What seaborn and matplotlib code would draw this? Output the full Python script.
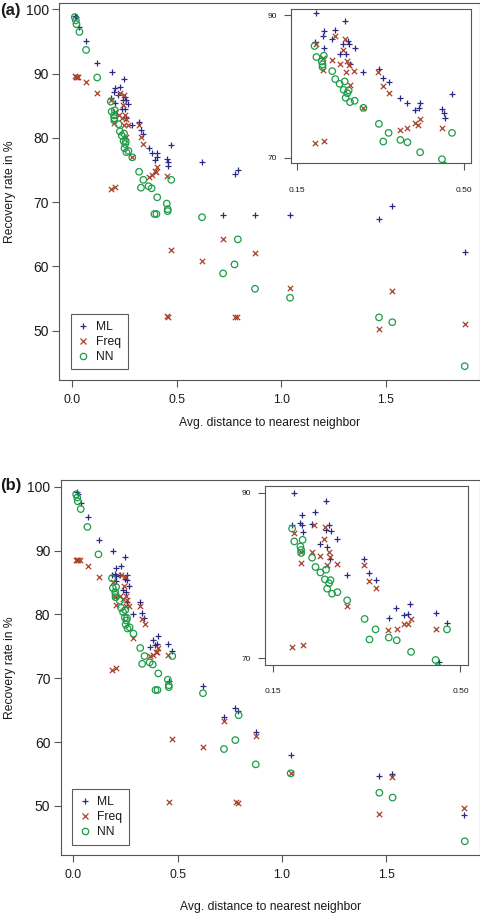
import matplotlib
matplotlib.use("Agg")
import matplotlib.pyplot as plt
from matplotlib.lines import Line2D
import seaborn as sns

sns.set_theme(style="white")
plt.rcParams['font.family'] = ['Liberation Sans', 'DejaVu Sans']

# ---------------- data ----------------
nn_x = [0.014, 0.019, 0.022, 0.036, 0.068, 0.121,
        0.186, 0.190, 0.2056, 0.2014, 0.2028, 0.2028, 0.2233, 0.2296, 0.2493, 0.2387,
        0.2472, 0.2577, 0.2549, 0.2514, 0.2606, 0.2704, 0.2887, 0.3212, 0.3416, 0.3303,
        0.3663, 0.3811, 0.4078, 0.4536, 0.4748,
        0.3945, 0.404, 0.458, 0.458,
        0.622, 0.7226, 0.777, 0.793, 0.875, 1.0425, 1.4675, 1.531, 1.877]
nn_y = [98.8, 98.3, 97.7, 96.5, 93.7, 89.4,
        85.65, 84.10, 84.29, 83.49, 83.07, 82.70, 82.13, 81.01, 80.68, 80.35,
        79.51, 79.42, 79.04, 78.39, 77.78, 77.97, 76.98, 74.73, 73.47, 72.25,
        72.48, 72.15, 70.75, 69.77, 73.47,
        68.15, 68.15, 68.9, 68.6,
        67.65, 58.9, 60.3, 64.2, 56.5, 55.1, 52.05, 51.3, 44.45]

ml_a_x = [0.017, 0.020, 0.036, 0.068, 0.121,
          0.190, 0.249, 0.205, 0.229, 0.203, 0.2225, 0.186, 0.2556, 0.259, 0.2458,
          0.2056, 0.2704, 0.2387, 0.2528, 0.2606, 0.2887, 0.3212, 0.3303, 0.3416, 0.3663,
          0.3811, 0.4078, 0.4064, 0.396, 0.4536, 0.4586, 0.4597, 0.4748,
          0.622, 0.7225, 0.778, 0.794, 0.875, 1.042, 1.4675, 1.531, 1.877]
ml_a_y = [99.0, 98.9, 97.3, 95.1, 91.7,
          90.29, 89.16, 87.76, 87.94, 87.1, 86.63, 86.26, 86.35, 85.88, 85.88,
          85.41, 85.32, 84.57, 84.57, 83.17, 81.99, 82.41, 81.20, 80.59, 78.39,
          77.68, 77.59, 76.98, 76.61, 76.75, 76.28, 75.58, 78.85,
          76.3, 68.0, 74.35, 75.0, 68.0, 68.0, 67.4, 69.4, 62.2]

freq_a_x = [0.014, 0.019, 0.024, 0.030, 0.068, 0.121,
            0.2282, 0.2493, 0.1887, 0.2458, 0.2042, 0.2233, 0.2549, 0.2401, 0.2584,
            0.2028, 0.2514, 0.2697, 0.3198, 0.2606, 0.3303, 0.3416, 0.2887, 0.396,
            0.4078, 0.403, 0.3811, 0.3663, 0.4543, 0.186, 0.2056,
            0.456, 0.459, 0.474, 0.622, 0.7226, 0.778, 0.791, 0.875, 1.0425, 1.4675,
            1.531, 1.877]
freq_a_y = [89.6, 89.5, 89.5, 89.45, 88.7, 86.95,
            87.01, 86.68, 85.88, 85.13, 84.01, 83.63, 83.54, 83.17, 82.93,
            82.32, 82.04, 82.08, 82.04, 80.12, 80.08, 79.04, 76.98, 74.92,
            75.39, 74.64, 74.17, 73.94, 74.12, 72.01, 72.29,
            52.3, 52.1, 62.5, 60.9, 64.25, 52.1, 52.15, 62.1, 56.7, 50.2,
            56.1, 51.05]

ml_b_x = [0.019, 0.022, 0.037, 0.069, 0.122,
          0.1899, 0.2488, 0.2048, 0.2289, 0.2011, 0.2042, 0.1856, 0.2233, 0.2555,
          0.2054, 0.2488, 0.2592, 0.2376, 0.2692, 0.2518, 0.2573, 0.2878, 0.3199,
          0.3292, 0.3416, 0.3806, 0.3663, 0.4059, 0.3942, 0.4022, 0.4541, 0.4746, 0.4592,
          0.622, 0.7225, 0.776, 0.79, 0.874, 1.042, 1.4655, 1.529, 1.874]
ml_b_y = [99.1, 98.9, 97.4, 95.25, 91.66,
          89.96, 88.95, 87.26, 87.62, 86.34, 86.05, 86.13, 86.21, 86.09,
          85.2, 85.53, 85.41, 83.84, 84.40, 83.44, 81.99, 80.09, 81.99,
          80.29, 79.40, 76.02, 74.85, 76.59, 75.22, 75.38, 75.42, 74.21, 69.54,
          68.8, 63.85, 65.4, 64.9, 61.5, 57.9, 54.6, 55.0, 48.6]

freq_b_x = [0.013, 0.019, 0.025, 0.032, 0.069, 0.122,
            0.1893, 0.2277, 0.2481, 0.2450, 0.2233, 0.2376, 0.2029, 0.2023, 0.2549,
            0.2574, 0.2518, 0.2698, 0.3206, 0.3299, 0.3423, 0.2883, 0.3657, 0.3812,
            0.3949, 0.4017, 0.4072, 0.4537, 0.1856, 0.2060,
            0.459, 0.473, 0.622, 0.7225, 0.778, 0.79, 0.874, 1.042, 1.4655, 1.529, 1.874]
freq_b_y = [88.55, 88.5, 88.5, 88.45, 87.6, 85.9,
            85.09, 86.09, 85.81, 84.40, 82.83, 82.39, 81.54, 82.79, 82.87,
            82.27, 81.26, 81.33, 81.26, 79.33, 78.44, 76.30, 73.40, 73.56,
            74.09, 74.09, 74.73, 73.56, 71.35, 71.63,
            50.6, 60.5, 59.15, 63.3, 50.55, 50.5, 61.0, 55.15, 48.8, 54.5, 49.65]

main_xticks = [0.0, 0.5, 1.0, 1.5]
main_xticklabels = ["0.0", "0.5", "1.0", "1.5"]
main_yticks = [50, 60, 70, 80, 90, 100]
inset_xticks = [0.15, 0.50]
inset_xticklabels = ["0.15", "0.50"]
inset_yticks = [70, 90]
series_names = ["ML", "Freq", "NN"]

# ---------------- style ----------------
C_ML = "#2A2A86"
C_FREQ = "#A8432B"
C_NN = "#1C9C48"
FRAME = "#555555"
TXT = "#1a1a1a"
W, H = 481, 914
FS = 8.7
FS_Y = 10.0

fig = plt.figure(figsize=(W / 100, H / 100), dpi=100)


def rect(l, t, r, b):
    return [l / W, 1 - b / H, (r - l) / W, (b - t) / H]


def draw_points(ax, mx, my, fx, fy, nx, ny):
    sns.scatterplot(x=mx, y=my, marker='+', s=24, color=C_ML, linewidth=0.9,
                    ax=ax, legend=False, zorder=3)
    sns.scatterplot(x=fx, y=fy, marker='x', s=15, color=C_FREQ, linewidth=0.9,
                    ax=ax, legend=False, zorder=3)
    sns.scatterplot(x=nx, y=ny, marker='o', s=22, color=C_NN, facecolors='none',
                    edgecolor=C_NN, linewidth=0.9, ax=ax, legend=False, zorder=3)


def style_frame(ax):
    for sp in ax.spines.values():
        sp.set_visible(True)
        sp.set_color(FRAME)
        sp.set_linewidth(0.8)
    ax.grid(False)
    ax.set_xlabel("")
    ax.set_ylabel("")


def panel(main_rect, inset_rect, mx, my, fx, fy, letter, label_y, xlabel_y):
    ax = fig.add_axes(rect(*main_rect))
    draw_points(ax, mx, my, fx, fy, nn_x, nn_y)
    style_frame(ax)
    ax.set_xlim(-0.06, 1.95)
    ax.set_ylim(42.3, 101.05)
    ax.set_xticks(main_xticks)
    ax.set_xticklabels(main_xticklabels)
    ax.set_yticks(main_yticks)
    ax.tick_params(axis='both', which='both', direction='out', length=5,
                   width=0.8, color=FRAME, labelcolor=TXT,
                   bottom=True, left=True)
    ax.tick_params(axis='x', pad=5, labelsize=FS)
    ax.tick_params(axis='y', pad=2.5, labelsize=FS_Y)

    handles = [
        Line2D([], [], ls='none', marker='+', color=C_ML, ms=5, mew=0.9),
        Line2D([], [], ls='none', marker='x', color=C_FREQ, ms=4, mew=0.9),
        Line2D([], [], ls='none', marker='o', mfc='none', mec=C_NN, ms=4.6, mew=0.9),
    ]
    leg = ax.legend(handles, series_names, loc='lower left',
                    bbox_to_anchor=(0.028, 0.028), frameon=True, fancybox=False,
                    fontsize=FS, handlelength=0.9, handletextpad=0.6,
                    labelspacing=0.25, borderpad=0.55, borderaxespad=0)
    leg.get_frame().set_edgecolor("#333333")
    leg.get_frame().set_linewidth(0.8)
    for t in leg.get_texts():
        t.set_color(TXT)

    ins = fig.add_axes(rect(*inset_rect))
    ins.set_zorder(5)
    ins.set_facecolor("white")
    draw_points(ins, mx, my, fx, fy, nn_x, nn_y)
    style_frame(ins)
    ins.set_xlim(0.136, 0.514)
    ins.set_ylim(69.2, 90.8)
    ins.set_xticks(inset_xticks)
    ins.set_xticklabels(inset_xticklabels)
    ins.set_yticks(inset_yticks)
    ins.tick_params(axis='both', direction='out', length=5, width=0.8,
                    color=FRAME, labelsize=6, labelcolor=TXT,
                    bottom=True, left=True, pad=5)
    ins.tick_params(axis='x', pad=12)

    l, t, r, b = main_rect
    fig.text(0.5 / W, 1 - label_y / H, letter, fontsize=12, fontweight='bold',
             color=TXT, ha='left', va='center')
    fig.text(((l + r) / 2) / W, 1 - xlabel_y / H,
             "Avg. distance to nearest neighbor", fontsize=FS, color=TXT,
             ha='center', va='center')
    fig.text(10 / W, 1 - ((t + b) / 2) / H, "Recovery rate in %", fontsize=FS,
             color=TXT, ha='center', va='center', rotation=90)
    return ax


panel((59.3, 2.7, 480, 380), (290.7, 9.3, 470.7, 163.3),
      ml_a_x, ml_a_y, freq_a_x, freq_a_y, "(a)", 10, 423)
panel((60.7, 480, 480, 855), (265.3, 486, 468, 664.7),
      ml_b_x, ml_b_y, freq_b_x, freq_b_y, "(b)", 486, 907)

fig.savefig("out.png", dpi=100, facecolor="white")
